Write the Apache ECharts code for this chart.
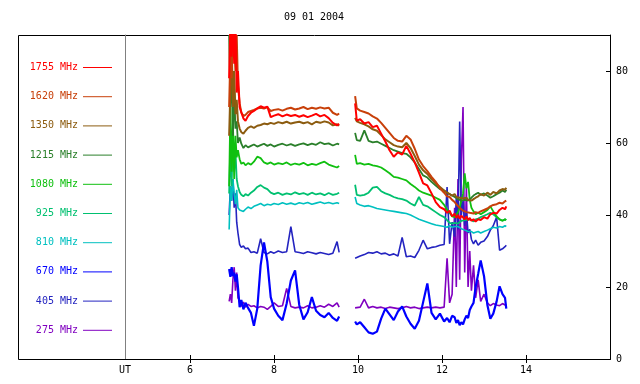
<!DOCTYPE html>
<html>
<head>
<meta charset="utf-8">
<script src="https://cdn.jsdelivr.net/npm/echarts@6/dist/echarts.min.js"></script>
<style>
html,body{margin:0;padding:0;background:#fff;}
#chart{width:640px;height:384px;}
</style>
</head>
<body>
<div id="chart"></div>
<script>
// ---- data (UT hours, flux values) ----
const times = [
6.93, 6.96, 6.99, 7.02, 7.05, 7.08, 7.11, 7.14, 7.18, 7.22,
7.27, 7.32, 7.38, 7.45, 7.52, 7.60, 7.68, 7.76, 7.84, 7.92,
8.00, 8.10, 8.20, 8.30, 8.40, 8.50, 8.60, 8.70, 8.80, 8.90,
9.00, 9.10, 9.20, 9.30, 9.40, 9.50, 9.55, 9.75, 9.93, 9.97,
10.05, 10.15, 10.25, 10.35, 10.45, 10.55, 10.65, 10.75, 10.85, 10.95,
11.05, 11.15, 11.25, 11.35, 11.45, 11.55, 11.65, 11.75, 11.85, 11.95,
12.05, 12.12, 12.18, 12.24, 12.30, 12.34, 12.38, 12.42, 12.46, 12.50,
12.54, 12.58, 12.62, 12.66, 12.70, 12.75, 12.80, 12.86, 12.92, 13.00,
13.08, 13.15, 13.22, 13.30, 13.37, 13.44, 13.50, 13.53
];

const f1755 = [
78, 95, 84, 96, 82, 95, 74, 80, 70, 68.5,
66.8, 66.2, 67.5, 68.4, 68.9, 69.6, 70.2, 69.8, 70.1, 67.2,
67.6, 68.0, 67.4, 67.9, 67.5, 67.8, 67.3, 67.7, 67.2, 67.6,
68.1, 67.4, 67.8, 66.9, 65.6, 64.9, 65.3, null, 71, 66.2,
66.6, 65.4, 65.8, 64.4, 64.8, 62.6, 60.4, 58.0, 56.2, 57.4,
56.8, 59.2, 57.0, 54.6, 51.8, 48.8, 48.2, 46.0, 43.6, 42.2,
41.6, 40.6, 41.2, 39.6, 40.4, 39.2, 40.0, 39.0, 39.8, 39.4,
38.8, 39.6, 38.6, 39.2, 38.4, 38.8, 38.2, 38.8, 38.6, 39.4,
39.0, 40.2, 40.6, 40.4, 41.4, 42.0, 41.6, 42.4
];
const f1620 = [
70, 85, 78, 92, 88, 80, 90, 76, 71, 68.5,
67.5, 67.8, 68.6, 68.9, 69.2, 69.6, 69.8, 69.6, 69.9, 68.9,
69.2, 69.4, 69.0, 69.5, 69.8, 69.3, 69.6, 70.0, 69.4, 69.8,
69.5, 69.9, 69.6, 69.8, 68.4, 67.8, 68.2, null, 73, 69.6,
69.0, 68.6, 68.2, 67.4, 66.8, 65.6, 64.2, 62.8, 61.4, 60.6,
60.4, 62.0, 61.0, 58.4, 55.4, 53.6, 52.2, 50.6, 49.2, 47.4,
46.2, 45.2, 45.0, 44.2, 43.6, 43.0, 42.6, 42.0, 41.8, 41.2,
41.6, 40.8, 41.0, 40.6, 40.8, 40.4, 40.8, 40.6, 41.0, 41.4,
41.8, 42.4, 42.8, 43.0, 43.4, 43.2, 43.8, 44.0
];
const f1350 = [
62, 75, 88, 70, 80, 68, 72, 66, 64.0, 63.0,
62.6, 63.4, 64.2, 64.6, 64.2, 64.8, 65.0, 65.4, 65.2, 65.6,
65.3, 65.8, 65.5, 65.9, 65.4, 65.7, 65.9, 65.5, 65.8, 65.2,
65.9, 65.6, 66.0, 65.7, 64.9, 65.2, 64.8, null, 67, 66.0,
65.6, 65.2, 64.6, 63.8, 63.4, 62.2, 61.0, 60.2, 59.4, 59.0,
58.8, 60.0, 58.6, 56.4, 54.0, 52.4, 51.4, 50.0, 48.8, 47.8,
46.8, 46.2, 45.8, 45.4, 45.8, 45.0, 45.4, 44.8, 45.2, 44.6,
44.4, 44.8, 44.2, 44.6, 44.0, 44.4, 44.8, 45.2, 45.8, 45.4,
46.2, 45.6, 46.4, 46.0, 46.8, 47.2, 47.0, 47.6
];
const f1215 = [
90, 70, 82, 62, 75, 64, 66, 60, 61.5, 59.8,
58.6, 59.4, 58.8, 59.2, 59.6, 59.0, 59.4, 59.8, 59.2, 59.6,
59.0, 59.5, 59.8, 59.3, 59.7, 59.2, 59.6, 59.9, 59.4, 59.8,
59.5, 60.2, 59.7, 59.9, 59.3, 59.8, 59.6, null, 62.8, 60.8,
60.6, 63.5, 60.6, 60.2, 60.4, 59.8, 59.2, 58.6, 58.0, 57.6,
57.2, 57.0, 56.0, 54.6, 52.8, 51.0, 50.4, 49.2, 48.2, 47.2,
46.8, 46.2, 45.8, 45.4, 45.0, 44.8, 44.4, 44.6, 44.0, 44.4,
44.2, 44.6, 44.0, 44.4, 44.8, 45.4, 45.8, 46.2, 45.6, 46.0,
45.4, 44.8, 45.2, 45.8, 46.2, 46.8, 46.4, 47.0
];
const f1080 = [
48, 70, 52, 66, 50, 62, 56, 58, 55.5, 54.2,
54.6, 53.8, 54.4, 54.0, 54.8, 56.2, 55.8, 54.6, 54.2, 54.6,
54.0, 54.4, 54.1, 54.6, 53.9, 54.3, 54.0, 54.5, 53.8, 54.2,
53.9, 54.4, 54.8, 54.0, 53.6, 53.2, 53.6, null, 56.7, 54.2,
54.4, 54.0, 54.2, 53.8, 53.6, 53.2, 52.4, 51.6, 50.6, 50.4,
50.0, 49.6, 48.6, 47.8, 46.8, 46.2, 45.8, 45.4, 44.8, 44.2,
42.8, 41.4, 40.6, 39.6, 39.4, 40.0, 40.8, 42.0, 44.0, 46.0,
51.6, 47.4, 49.2, 44.2, 42.0, 41.0, 40.2, 40.6, 40.2, 40.8,
41.4, 42.4, 41.0, 39.6, 38.8, 38.4, 38.8, 38.6
];
const f925 = [
46, 60, 48, 64, 52, 58, 50, 48, 46.4, 45.6,
45.2, 45.8, 45.4, 46.2, 46.8, 47.8, 48.3, 47.6, 47.2, 46.2,
45.8, 46.2, 45.6, 46.0, 45.7, 46.3, 45.8, 46.1, 45.6, 46.2,
45.7, 46.0, 45.5, 46.1, 45.6, 45.9, 46.2, null, 48.4, 45.6,
45.4, 45.6, 46.2, 47.6, 47.8, 46.6, 46.0, 45.6, 45.0, 44.6,
44.4, 44.0, 43.2, 42.6, 45.0, 42.8, 42.4, 41.6, 40.8, 40.0,
39.4, 38.6, 37.8, 37.6, 37.8, 38.2, 37.6, 38.0, 38.4, 38.0,
38.6, 38.2, 38.8, 38.4, 38.6, 38.2, 38.8, 39.0, 39.4, 39.8,
40.2, 40.6, 40.2, 39.4, 38.8, 38.4, 38.8, 38.6
];
const f810 = [
36, 48, 44, 50, 46, 43, 47, 42, 41.4, 41.8,
41.0, 41.6, 42.2, 41.8, 42.4, 42.8, 43.2, 42.6, 43.0, 42.8,
43.2, 42.9, 43.4, 43.0, 43.3, 42.9, 43.4, 43.1, 43.5, 43.0,
43.3, 43.6, 43.2, 43.5, 43.1, 43.4, 43.2, null, 45.0, 43.2,
42.8, 42.4, 42.6, 42.2, 41.8, 41.6, 41.4, 41.2, 41.0, 40.8,
40.6, 40.4, 40.0, 39.4, 38.8, 38.4, 38.0, 37.6, 37.2, 37.0,
36.8, 36.6, 37.0, 36.6, 36.8, 36.4, 36.8, 36.4, 36.2, 36.0,
35.8, 35.6, 35.4, 35.2, 35.4, 35.0, 35.2, 35.4, 35.0, 35.4,
35.8, 36.2, 36.6, 36.4, 36.8, 36.6, 37.0, 36.8
];
const f670 = [
25.0, 22.8, 25.5, 23.0, 24.0, 21.5, 23.5, 20.0, 14.4, 16.4,
13.8, 15.6, 14.2, 12.8, 9.2, 14.0, 26.0, 32.4, 27.0, 17.2,
14.0, 12.0, 10.8, 15.4, 21.8, 24.6, 15.0, 11.0, 13.0, 17.2,
13.4, 12.2, 11.6, 12.8, 11.4, 10.6, 11.8, null, 10.4, 9.6,
10.2, 8.8, 7.4, 7.0, 7.6, 11.2, 14.0, 12.4, 10.8, 13.2,
14.6, 11.8, 9.8, 8.4, 10.6, 15.8, 21.0, 12.8, 11.0, 12.6,
10.4, 11.4, 10.2, 12.0, 11.6, 10.0, 10.8, 9.4, 10.2, 9.6,
11.0, 12.0, 11.4, 13.6, 14.6, 15.6, 20.0, 23.6, 27.4, 23.0,
15.0, 11.2, 12.6, 16.0, 20.2, 18.0, 17.0, 14.0
];
const f405 = [
40, 48, 44, 50, 42, 46, 38, 35, 31.8, 31.0,
31.4, 30.6, 30.8, 29.6, 29.8, 29.4, 33.4, 29.6, 29.2, 29.8,
29.4, 30.0, 29.6, 29.8, 36.8, 29.8, 29.6, 29.3, 29.8, 29.5,
29.2, 29.6, 29.3, 29.0, 29.4, 32.6, 29.6, null, 28.0, 28.2,
28.6, 29.0, 29.6, 29.4, 29.8, 29.2, 29.4, 28.8, 29.2, 28.6,
33.8, 28.4, 28.6, 28.2, 30.2, 33.0, 30.6, 31.0, 31.2, 31.6,
31.8, 47.8, 32.0, 38.0, 34.0, 45.0, 36.0, 66.0, 40.0, 44.0,
37.0, 41.0, 35.0, 36.0, 33.2, 32.0, 33.0, 31.6, 32.4, 32.8,
34.0, 35.8, 37.0, 39.4, 30.2, 30.6, 31.2, 31.6
];
const f275 = [
16.0, 18.0, 15.6, 22.0, 25.5, 19.0, 24.0, 17.0, 16.2, 14.6,
15.8, 14.4, 15.2, 14.6, 14.8, 14.2, 14.6, 14.4, 13.8, 14.6,
15.6, 14.6, 14.8, 19.6, 14.6, 14.2, 14.4, 14.2, 14.8, 14.2,
14.4, 14.8, 14.4, 15.2, 14.6, 15.6, 14.4, null, 14.2, 14.0,
14.4, 16.6, 14.2, 14.6, 14.2, 14.4, 14.0, 14.4, 14.2, 14.0,
14.2, 14.6, 14.2, 14.4, 14.0, 14.2, 14.4, 14.2, 14.4, 14.2,
14.4, 28.0, 15.6, 18.0, 42.0, 20.0, 50.0, 22.0, 55.0, 70.0,
24.0, 48.0, 20.0, 30.0, 19.0, 26.0, 17.0, 22.0, 16.0, 18.0,
15.6, 14.8, 15.4, 15.0, 14.8, 15.4, 15.0, 15.2
];

const seriesNames = ['1755 MHz','1620 MHz','1350 MHz','1215 MHz','1080 MHz','925 MHz','810 MHz','670 MHz','405 MHz','275 MHz'];
const seriesValues = [f1755, f1620, f1350, f1215, f1080, f925, f810, f670, f405, f275];
const xTicks = [6, 8, 10, 12, 14];
const yTicks = [0, 20, 40, 60, 80];
const chartTitle = '09 01 2004';
const xName = 'UT';

// ---- styling ----
const colors = ['#ff0000','#c8400a','#8c5c10','#2a7f2a','#10c010','#00c070','#00c0c0','#0000ff','#2424c0','#8000c0'];
const widths = [2, 2, 2, 1.8, 1.8, 1.8, 1.6, 2.2, 1.6, 1.6];
const FONT = 'DejaVu Sans Mono';
const xMin = 4.45, xMax = 16;

const chart = echarts.init(document.getElementById('chart'), null, {renderer: 'canvas'});

const series = [];
for (let i = seriesNames.length - 1; i >= 0; i--) {
  const vals = seriesValues[i];
  series.push({
    name: seriesNames[i],
    type: 'line',
    xAxisIndex: 0,
    yAxisIndex: 0,
    data: times.map((t, k) => [t, vals[k] === null ? '-' : vals[k]]),
    showSymbol: false,
    symbol: 'none',
    connectNulls: false,
    clip: true,
    silent: true,
    lineStyle: {width: widths[i], color: colors[i]},
    itemStyle: {color: colors[i]}
  });
}

const legends = seriesNames.map((n, i) => ({
  data: [{name: n, textStyle: {color: colors[i]}}],
  orient: 'vertical',
  right: 528,
  top: 60.5 + 29.2 * i,
  padding: 0,
  itemGap: 0,
  itemWidth: 29,
  itemHeight: 1,
  icon: 'rect',
  align: 'right',
  selectedMode: false,
  textStyle: {fontFamily: FONT, fontSize: 10, lineHeight: 14, padding: 0}
}));

const txt = {fontFamily: FONT, fontSize: 10, color: '#000'};

chart.setOption({
  animation: false,
  backgroundColor: '#ffffff',
  title: {
    text: chartTitle, left: 314, top: 12, textAlign: 'center', padding: 0,
    textStyle: {fontFamily: FONT, fontSize: 10, fontWeight: 'normal', color: '#000'}
  },
  legend: legends,
  grid: {left: 125, right: 30, top: 35, bottom: 25, containLabel: false},
  graphic: [{
    type: 'rect', silent: true, z: 0,
    shape: {x: 18.5, y: 35.5, width: 592, height: 324},
    style: {fill: 'none', stroke: '#000', lineWidth: 1}
  }],
  xAxis: [{
    type: 'value', min: xMin, max: xMax, position: 'bottom',
    axisLine: {show: true, lineStyle: {color: '#000', width: 1}},
    axisTick: {show: true, inside: true, length: 4, customValues: xTicks, lineStyle: {color: '#000'}},
    axisLabel: {
      customValues: [xMin].concat(xTicks), margin: 6, ...txt,
      formatter: v => (Math.abs(v - xMin) < 1e-6 ? xName : String(v))
    },
    splitLine: {show: false}
  }, {
    type: 'value', min: xMin, max: xMax, position: 'top',
    axisLine: {show: true, lineStyle: {color: '#000', width: 1}},
    axisTick: {show: true, inside: true, length: 4, customValues: xTicks, lineStyle: {color: '#000'}},
    axisLabel: {show: false},
    splitLine: {show: false}
  }],
  yAxis: [{
    type: 'value', min: 0, max: 90, position: 'right',
    axisLine: {show: true, lineStyle: {color: '#000', width: 1}},
    axisTick: {show: true, inside: true, length: 4, customValues: yTicks, lineStyle: {color: '#000'}},
    axisLabel: {customValues: yTicks, margin: 6, ...txt},
    splitLine: {show: false}
  }, {
    type: 'value', min: 0, max: 90, position: 'left',
    axisLine: {show: true, lineStyle: {color: '#808080', width: 1}},
    axisTick: {show: false},
    axisLabel: {show: false},
    splitLine: {show: false}
  }],
  series: series
});
</script>
</body>
</html>
